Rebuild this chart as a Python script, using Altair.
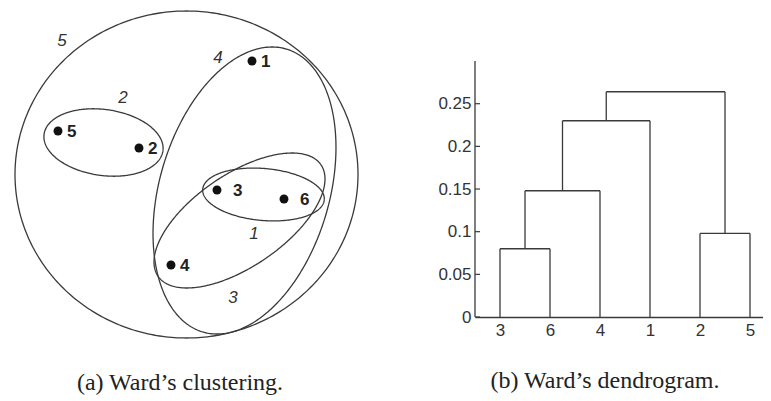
import altair as alt
import numpy as np
import pandas as pd

# ---------------- data: left panel (units ~ px, origin at centre of cluster 5, y up)
point_ids = ["1", "2", "3", "4", "5", "6"]
point_x = [65.5, -47.5, 30.5, -15.5, -128.5, 97.5]
point_y = [113.5, 26.5, -15.5, -90.5, 43.5, -24.5]
spaced_ids = ["3", "6"]  # labels printed as "• 3" (with a space)

cluster_ids = ["1", "2", "3", "4", "5"]
cluster_cx = [77, -83, 53, 58, 0]
cluster_cy = [-20, 32, -46, -16, 0]
cluster_a = [61, 60, 98.7, 147.5, 171.5]
cluster_b = [26, 33, 46.1, 84.9, 163.5]
cluster_angle = [-5, -8, 34.4, 73.6, 0]
cluster_label_x = [67.5, -63.5, 46.5, 31.5, -124.5]
cluster_label_y = [-59.5, 76.5, -123.5, 116.5, 133.5]

# ---------------- data: dendrogram
leaf_order = ["3", "6", "4", "1", "2", "5"]
merge_left = ["3", "L1", "L2", "2", "L3"]
merge_right = ["6", "4", "1", "5", "L4"]
merge_height = [0.08, 0.148, 0.23, 0.098, 0.264]
y_ticks = [0, 0.05, 0.1, 0.15, 0.2, 0.25]
y_axis_top = 0.3

captions = ["(a) Ward\u2019s clustering.", "(b) Ward\u2019s dendrogram."]

# ---------------- build tables
points = pd.DataFrame({"id": point_ids, "x": point_x, "y": point_y})

rows = []
t = np.linspace(0, 2 * np.pi, 361)
for cid, cx, cy, a, b, ang in zip(cluster_ids, cluster_cx, cluster_cy,
                                  cluster_a, cluster_b, cluster_angle):
    th = np.deg2rad(ang)
    xs = cx + a * np.cos(t) * np.cos(th) - b * np.sin(t) * np.sin(th)
    ys = cy + a * np.cos(t) * np.sin(th) + b * np.sin(t) * np.cos(th)
    for i, (xx, yy) in enumerate(zip(xs, ys)):
        rows.append({"cluster": cid, "i": i, "x": xx, "y": yy})
outlines = pd.DataFrame(rows)
clabels = pd.DataFrame({"id": cluster_ids, "x": cluster_label_x, "y": cluster_label_y})

pos = {leaf: i + 1 for i, leaf in enumerate(leaf_order)}
hgt = {leaf: 0.0 for leaf in leaf_order}
segs = []
for k, (l, r, h) in enumerate(zip(merge_left, merge_right, merge_height)):
    segs.append({"x": pos[l], "x2": pos[l], "y": hgt[l], "y2": h})
    segs.append({"x": pos[r], "x2": pos[r], "y": hgt[r], "y2": h})
    segs.append({"x": pos[l], "x2": pos[r], "y": h, "y2": h})
    name = f"L{k + 1}"
    pos[name] = (pos[l] + pos[r]) / 2
    hgt[name] = h
segs = pd.DataFrame(segs)

x_min, x_max = 0.5, 6.26
ticks_df = pd.DataFrame({"v": y_ticks})
axis_df = pd.DataFrame({"y": [0.0], "y2": [y_axis_top]})

LINE = "#3a3a3a"

# ---------------- left panel
W1, H1 = 362, 335
xs_left = alt.Scale(domain=[-178.5, 183.5], nice=False, zero=False)
ys_left = alt.Scale(domain=[-169.5, 165.5], nice=False, zero=False)

ell = alt.Chart(outlines).mark_line(color=LINE, strokeWidth=1.3).encode(
    x=alt.X("x:Q", scale=xs_left, axis=None),
    y=alt.Y("y:Q", scale=ys_left, axis=None),
    detail="cluster:N",
    order="i:Q",
)
dots = alt.Chart(points).mark_circle(color="#111", opacity=1, size=80).encode(
    x=alt.X("x:Q", scale=xs_left, axis=None),
    y=alt.Y("y:Q", scale=ys_left, axis=None),
)
lab_common = dict(font="Liberation Sans", fontSize=17, fontWeight="bold",
                  color="#222", align="left", baseline="middle", dy=1)
plabels_a = alt.Chart(points).transform_filter(
    ~alt.FieldOneOfPredicate(field="id", oneOf=spaced_ids)
).mark_text(dx=9, **lab_common).encode(
    x=alt.X("x:Q", scale=xs_left, axis=None),
    y=alt.Y("y:Q", scale=ys_left, axis=None),
    text="id:N",
)
plabels_b = alt.Chart(points).transform_filter(
    alt.FieldOneOfPredicate(field="id", oneOf=spaced_ids)
).mark_text(dx=16, **lab_common).encode(
    x=alt.X("x:Q", scale=xs_left, axis=None),
    y=alt.Y("y:Q", scale=ys_left, axis=None),
    text="id:N",
)
clab = alt.Chart(clabels).mark_text(
    font="Liberation Sans", fontSize=17, fontStyle="italic", color="#333",
    align="center", baseline="middle",
).encode(
    x=alt.X("x:Q", scale=xs_left, axis=None),
    y=alt.Y("y:Q", scale=ys_left, axis=None),
    text="id:N",
)
left = alt.layer(ell, dots, plabels_a, plabels_b, clab).properties(
    width=W1, height=H1,
    title=alt.TitleParams(captions[0], orient="bottom", anchor="middle",
                          font="Liberation Serif", fontSize=24, fontWeight="normal",
                          color="#222", offset=27, dx=-9),
)

# ---------------- right panel
W2, H2 = 288, 308
y_max = 0.361
xs_r = alt.Scale(domain=[x_min, x_max], nice=False, zero=False)
ys_r = alt.Scale(domain=[0, y_max], nice=False, zero=False)
label_expr = "[" + ",".join(f"'{s}'" for s in leaf_order) + "][datum.value - 1]"

x_axis = alt.Axis(values=list(range(1, len(leaf_order) + 1)), labelExpr=label_expr,
                  ticks=False, tickSize=0, grid=False, domainColor=LINE,
                  domainWidth=1.3, labelFont="Liberation Sans", labelFontSize=17,
                  labelColor="#333", labelPadding=5, title=None)
y_axis = alt.Axis(values=y_ticks, format="~g", ticks=False, tickSize=0, domain=False,
                  grid=False, labelFont="Liberation Sans", labelFontSize=17,
                  labelColor="#333", labelPadding=4, minExtent=40, maxExtent=40,
                  title=None)

dend = alt.Chart(segs).mark_rule(color=LINE, strokeWidth=1.3).encode(
    x=alt.X("x:Q", scale=xs_r, axis=x_axis),
    x2="x2:Q",
    y=alt.Y("y:Q", scale=ys_r, axis=y_axis),
    y2="y2:Q",
)
yline = alt.Chart(axis_df).mark_rule(color=LINE, strokeWidth=1.3).encode(
    x=alt.datum(x_min, scale=xs_r),
    y=alt.Y("y:Q", scale=ys_r),
    y2="y2:Q",
)
yticks = alt.Chart(ticks_df).mark_rule(color=LINE, strokeWidth=1.2).encode(
    x=alt.datum(x_min, scale=xs_r),
    x2=alt.datum(x_min + 0.1),
    y=alt.Y("v:Q", scale=ys_r),
)
right = alt.layer(dend, yline, yticks).properties(
    width=W2, height=H2,
    title=alt.TitleParams(captions[1], orient="bottom", anchor="middle",
                          font="Liberation Serif", fontSize=24, fontWeight="normal",
                          color="#222", offset=31, dx=-14),
)

chart = alt.hconcat(left, right, spacing=65).properties(
    padding={"left": 0, "top": 0, "right": 0, "bottom": 0},
    background="white",
).configure_view(stroke=None)

chart.save("out.html", embed_options={"renderer": "svg", "actions": False})
